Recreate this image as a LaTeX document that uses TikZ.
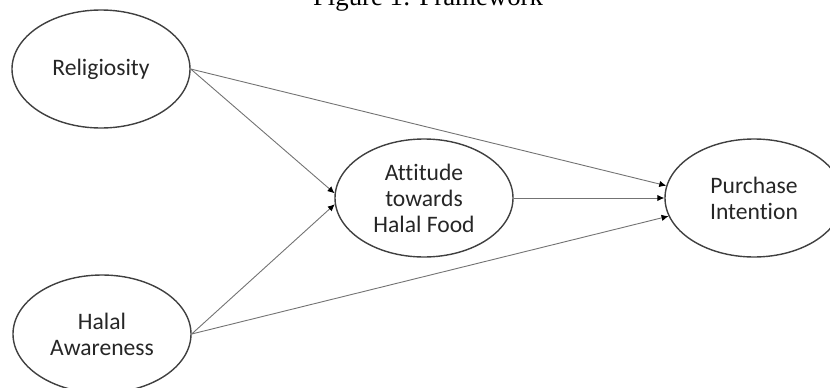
\documentclass[tikz,border=0pt]{standalone}
\usepackage{fontspec}
\setmainfont{Liberation Serif}
\newfontfamily\calibri[RawFeature=-liga]{Carlito}
\usetikzlibrary{shapes.geometric, arrows.meta}

\begin{document}
\begin{tikzpicture}[
    construct/.style={draw=black!75, ellipse, line width=0.7pt, minimum width=89pt, minimum height=59pt, inner sep=0pt, align=center, text=black!85, font=\calibri\fontsize{11.8}{13}\selectfont},
    arr/.style={-{Latex[length=3.5pt, width=3.2pt, color=black]}, draw=black!55, line width=0.45pt},
    x=1pt, y=1pt,
]
\useasboundingbox (0,0) rectangle (415,193.5);
\node[anchor=base, font=\fontsize{13.4}{16}\selectfont] (title) at (214,190.6) {Figure 1: Framework};
\node[construct] (rel) at (50.5,159) {Religiosity};
\node[construct] (aware) at (51,26.5) {Halal\\Awareness};
\node[construct] (att) at (212,94.5) {Attitude\\towards\\Halal Food};
\node[construct] (pi) at (377,94.5) {Purchase\\Intention};

\draw[arr] (rel.east) -- (att.177);
\draw[arr] (aware.east) -- (att.184);
\draw[arr] (rel.east) -- (pi.172);
\draw[arr] (att.east) -- (pi.west);
\draw[arr] (aware.east) -- (pi.192);
\end{tikzpicture}
\end{document}
